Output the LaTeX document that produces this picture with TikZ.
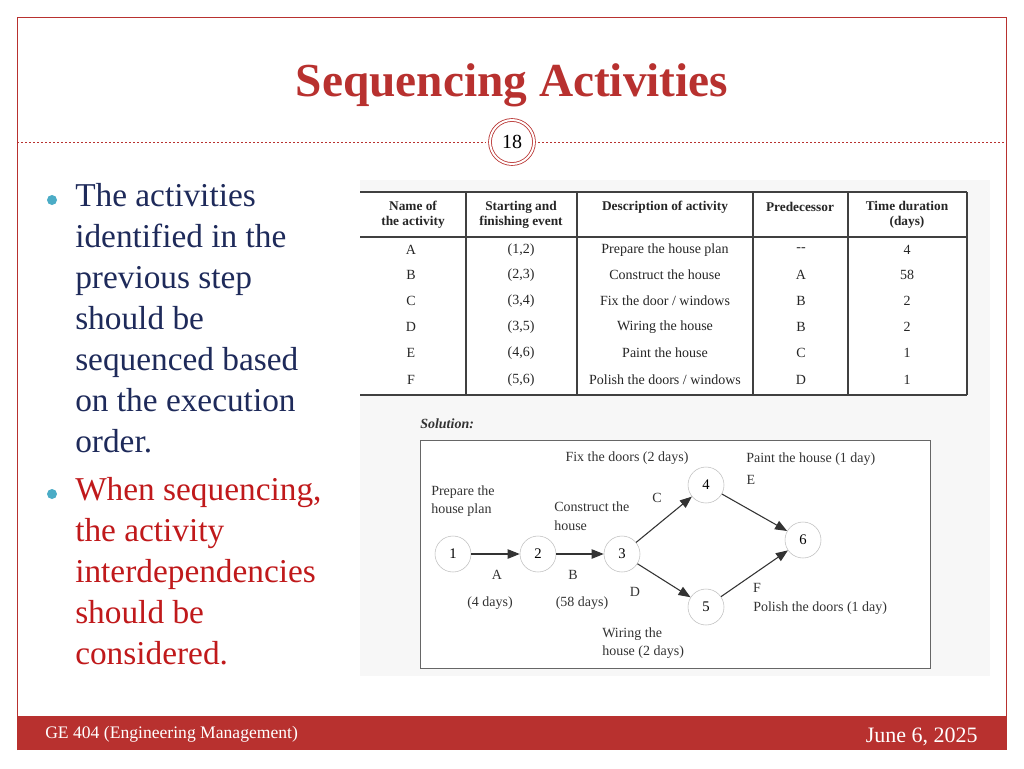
\documentclass[tikz,border=0pt]{standalone}
\usepackage{fontspec}
\setmainfont{Liberation Serif}
\usetikzlibrary{arrows.meta}
\definecolor{dred}{HTML}{B8312F}
\definecolor{bluetext}{HTML}{1E2A5A}
\definecolor{redtext}{HTML}{C0191B}
\definecolor{teal}{HTML}{4BACC6}
\newlength{\ppx}\setlength{\ppx}{0.75pt}
\tikzset{
  ev/.style={circle,draw=gray!50,fill=white,minimum size=36\ppx,inner sep=0pt,font=\fontsize{11}{12}\selectfont},
  act/.style={-{Triangle[length=9pt,width=7pt]},draw=black!80,line width=0.8pt},
  lab/.style={font=\fontsize{10.5}{14}\selectfont,text=black!80,inner sep=0pt,align=left},
  cell/.style={font=\fontsize{10.5}{12}\selectfont,text=black!85,inner sep=0pt},
  hcell/.style={font=\bfseries\fontsize{10}{11}\selectfont,text=black!85,inner sep=0pt,align=center},
  bul/.style={anchor=north west,inner sep=0pt,align=left,font=\fontsize{25}{30.75}\selectfont},
}
\begin{document}
\begin{tikzpicture}[x=0.75pt,y=-0.75pt]
\useasboundingbox (0,0) rectangle (1024,768);
\fill[white] (0,0) rectangle (1024,768);
% frame
\draw[dred,line width=0.6pt] (17,750) -- (17,17) -- (1006,17) -- (1006,750);
\fill[dred] (17,716) rectangle (1006,750);
\node[text=white,anchor=west,inner sep=0pt,font=\fontsize{13.2}{16}\selectfont] (foot1) at (45,734) {GE 404 (Engineering Management)};
\node[text=white,anchor=east,inner sep=0pt,font=\fontsize{16.5}{18}\selectfont] (foot2) at (978,737) {June 6, 2025};
% title
\node[text=dred,font=\bfseries\fontsize{35.5}{40}\selectfont] (title) at (512,85) {Sequencing Activities};
\draw[dred,dash pattern=on 1.5pt off 1.5pt,line width=0.5pt] (17,142) -- (486,142);
\draw[dred,dash pattern=on 1.5pt off 1.5pt,line width=0.5pt] (538,142) -- (1006,142);
\node[circle,draw=dred,double=white,double distance=1.5pt,line width=0.6pt,minimum size=44\ppx,inner sep=0pt,font=\fontsize{15}{16}\selectfont] (pg) at (512,142) {18};
% bullets
\fill[teal] (52,200) circle (5);
\fill[teal] (52,494) circle (5);
\node[bul,text=bluetext] (b1) at (75,183) {The activities\\identified in the\\previous step\\should be\\sequenced based\\on the execution\\order.};
\node[bul,text=redtext] (b2) at (75,477) {When sequencing,\\the activity\\interdependencies\\should be\\considered.};
% table
\fill[black!3] (360,180) rectangle (990,400);
\fill[white] (360,192) rectangle (967,395);
\foreach \x in {466,577,753,848} \draw[black!75,line width=1.6pt] (\x,192) -- (\x,395);
\draw[black!75,line width=1.6pt] (967,192) -- (967,395);
\draw[black!75,line width=1.2pt] (360,192) -- (967,192);
\draw[black!75,line width=1.2pt] (360,237) -- (967,237);
\draw[black!75,line width=1.2pt] (360,395) -- (967,395);
\node[hcell] (h1) at (413,215) {Name of\\the activity};
\node[hcell] (h2) at (521,215) {Starting and\\finishing event};
\node[hcell] (h3) at (665,207) {Description of activity};
\node[hcell] (h4) at (800,207) {Predecessor};
\node[hcell] (h5) at (907,215) {Time duration\\(days)};
\foreach \y/\a/\b/\c/\d/\e [count=\i] in {250/A/{(1,2)}/{Prepare the house plan}/{-{}-}/4,
  275/B/{(2,3)}/{Construct the house}/A/58,
  301/C/{(3,4)}/{Fix the door / windows}/B/2,
  327/D/{(3,5)}/{Wiring the house}/B/2,
  353/E/{(4,6)}/{Paint the house}/C/1,
  380/F/{(5,6)}/{Polish the doors / windows}/D/1}{
  \node[cell] (ra\i) at (411,\y) {\a};
  \node[cell] (rb\i) at (521,\y) {\b};
  \node[cell] (rc\i) at (665,\y) {\c};
  \node[cell] (rd\i) at (801,\y) {\d};
  \node[cell] (re\i) at (907,\y) {\e};
}
% solution
\fill[black!3] (360,400) rectangle (990,676);
\node[lab,anchor=west,font=\bfseries\itshape\fontsize{10.5}{12}\selectfont] (sol) at (420,424) {Solution:};
\draw[black!60,fill=white,line width=0.7pt] (420,440) rectangle (930,668);
\node[ev] (n1) at (453,554) {1};
\node[ev] (n2) at (538,554) {2};
\node[ev] (n3) at (622,554) {3};
\node[ev] (n4) at (706,485) {4};
\node[ev] (n5) at (706,607) {5};
\node[ev] (n6) at (803,540) {6};
\draw[act] (n1) -- (n2);
\draw[act] (n2) -- (n3);
\draw[act] (n3) -- (n4);
\draw[act] (n3) -- (n5);
\draw[act] (n4) -- (n6);
\draw[act] (n5) -- (n6);
\node[lab,anchor=west] (l1) at (431,501) {Prepare the\\house plan};
\node[lab] (la) at (497,575) {A};
\node[lab] (la2) at (490,603) {(4 days)};
\node[lab,anchor=west] (l2) at (554,516) {Construct the\\house};
\node[lab] (lb) at (573,575) {B};
\node[lab] (lb2) at (582,603) {(58 days)};
\node[lab] (lc) at (657,498) {C};
\node[lab] (lc2) at (627,458) {Fix the doors (2 days)};
\node[lab] (ld) at (635,592) {D};
\node[lab,anchor=west] (ld2) at (602,643) {Wiring the\\house (2 days)};
\node[lab,anchor=west] (le2) at (746,459) {Paint the house (1 day)};
\node[lab] (le) at (751,480) {E};
\node[lab] (lf) at (757,588) {F};
\node[lab,anchor=west] (lf2) at (753,608) {Polish the doors (1 day)};
\end{tikzpicture}
\end{document}
